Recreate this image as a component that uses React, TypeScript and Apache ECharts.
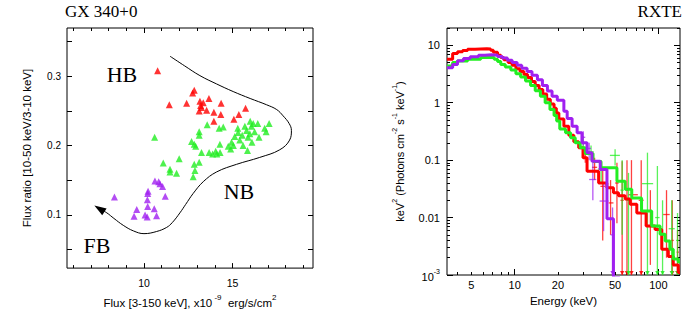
import React, { useEffect, useRef } from 'react';
import * as echarts from 'echarts';

// ---------- Left panel: flux ratio vs flux (GX 340+0) ----------
const hbPoints: number[][] = [
  [10.77, 0.308], [11.43, 0.259], [12.41, 0.261], [12.84, 0.280], [12.75, 0.276], [13.16, 0.264],
  [13.67, 0.268], [13.35, 0.262], [13.25, 0.255], [13.12, 0.250], [13.54, 0.251], [13.95, 0.248],
  [14.36, 0.261], [14.34, 0.245], [13.95, 0.235], [15.08, 0.238], [15.36, 0.245], [15.74, 0.254], [13.20, 0.258],
];
const nbPoints: number[][] = [
  [10.60, 0.212], [11.09, 0.175], [11.47, 0.166], [11.47, 0.162], [11.84, 0.160], [11.99, 0.181],
  [12.69, 0.206], [12.84, 0.202], [12.92, 0.199], [13.12, 0.220], [13.12, 0.215], [13.25, 0.190],
  [12.84, 0.173], [13.12, 0.176], [12.88, 0.164], [12.78, 0.155], [13.57, 0.230], [13.68, 0.190],
  [13.88, 0.188], [14.05, 0.192], [14.12, 0.188], [14.30, 0.190], [14.25, 0.225], [14.48, 0.227],
  [14.29, 0.202], [14.76, 0.199], [14.95, 0.205], [15.05, 0.200], [15.13, 0.213], [15.32, 0.219],
  [15.41, 0.208], [15.55, 0.215], [15.70, 0.228], [15.80, 0.222], [15.88, 0.212], [15.98, 0.217],
  [16.07, 0.228], [16.17, 0.232], [16.25, 0.220], [16.43, 0.232], [16.50, 0.212], [16.82, 0.225],
  [16.90, 0.220], [17.07, 0.232], [15.60, 0.200], [15.85, 0.193], [16.10, 0.205], [14.90, 0.195],
  [15.30, 0.225], [16.00, 0.235],
];
const fbPoints: number[][] = [
  [8.33, 0.126], [9.44, 0.098], [9.59, 0.108], [10.06, 0.100], [10.18, 0.097], [10.21, 0.112],
  [10.58, 0.109], [10.71, 0.099], [10.19, 0.122], [10.21, 0.131], [10.23, 0.134], [10.62, 0.149],
  [10.83, 0.148], [10.90, 0.145], [11.05, 0.141], [11.20, 0.127],
];
const zTrack: number[][] = [
  [11.47, 0.329], [12.3, 0.315], [13.16, 0.301], [14.1, 0.289], [15.04, 0.278], [16.0, 0.268],
  [16.92, 0.259], [17.5, 0.252], [17.86, 0.243], [18.2, 0.232], [18.33, 0.222], [18.23, 0.208],
  [17.67, 0.194], [16.54, 0.183], [15.23, 0.173], [14.1, 0.162], [13.35, 0.148], [12.78, 0.131],
  [12.35, 0.115], [12.03, 0.103], [11.6, 0.089], [11.28, 0.082], [10.7, 0.076], [10.0, 0.073],
  [9.4, 0.077], [8.83, 0.085], [8.3, 0.095], [7.9, 0.103], [7.48, 0.109],
];
const fluxMajorTicks = [10, 15];
const fluxMinorTicks = [6, 7, 8, 9, 11, 12, 13, 14, 16, 17, 18, 19];
const ratioMajorTicks = [0.1, 0.2, 0.3];
const ratioMinorTicks = [0.05, 0.15, 0.25, 0.35];

// ---------- Right panel: RXTE unfolded spectra ----------
const specRed: number[][] = [
  [3.38, 5.7], [3.7, 7.2], [4.0, 7.7], [4.34, 8.1], [4.7, 8.5], [5.3, 8.6], [5.8, 8.7], [6.4, 8.6],
  [6.8, 8.2], [7.1, 7.6], [7.6, 6.7], [8.0, 6.1], [8.4, 5.6], [9.0, 5.0], [9.6, 4.5], [10.2, 3.9],
  [10.9, 3.5], [11.6, 3.1], [12.3, 2.75], [13.1, 2.35], [13.9, 2.0], [14.8, 1.7], [15.7, 1.42],
  [16.7, 1.15], [17.7, 0.95], [18.8, 0.8], [19.5, 0.66],
  [20.3, 0.52], [22.0, 0.39], [23.8, 0.27], [25.8, 0.21], [27.9, 0.165], [29.9, 0.11], [31.9, 0.064],
  [38.4, 0.040], [43.8, 0.033], [48.7, 0.027], [52.8, 0.024], [58.7, 0.021], [63.6, 0.017],
  [70.8, 0.012], [82.2, 0.0071], [94.9, 0.0062], [105.6, 0.0028], [117.3, 0.0021], [127, 0.0015],
  [137.6, 0.0011], [141.5, 0.0011],
];
const specGreen: number[][] = [
  [3.38, 4.35], [3.7, 5.0], [4.0, 5.3], [4.7, 5.7], [5.8, 6.1], [6.5, 6.1], [7.2, 5.7], [7.6, 5.2],
  [8.0, 4.65], [8.6, 4.2], [9.4, 3.7], [10.2, 3.2], [11.0, 2.8], [11.9, 2.4], [12.9, 2.0], [13.9, 1.62],
  [15.1, 1.3], [16.3, 1.0], [17.6, 0.76], [18.8, 0.6], [19.6, 0.48],
  [20.6, 0.35], [22.6, 0.30], [24.5, 0.245], [26.4, 0.20], [28.6, 0.165], [31.0, 0.13], [35.1, 0.095],
  [39.9, 0.074], [51.5, 0.043], [58.7, 0.031], [65.3, 0.022], [76.4, 0.013], [89.9, 0.0071],
  [102.8, 0.0051], [111.5, 0.0039], [120.3, 0.0028], [127, 0.0019], [137.6, 0.0017], [141.5, 0.0017],
];
const specPurple: number[][] = [
  [3.38, 4.07], [3.7, 4.65], [4.0, 5.4], [4.4, 5.9], [4.9, 6.3], [5.6, 6.7], [6.2, 6.85], [6.9, 6.7],
  [7.6, 6.4], [8.2, 6.0], [8.9, 5.5], [9.6, 5.0], [10.4, 4.5], [11.2, 4.0], [12.2, 3.5], [13.2, 3.0],
  [14.4, 2.5], [15.6, 2.0], [16.9, 1.6], [18.2, 1.3], [19.8, 1.1],
  [22.0, 0.71], [23.2, 0.53], [25.1, 0.39], [27.2, 0.30], [29.4, 0.20], [31.9, 0.135], [34.5, 0.096],
  [39.4, 0.069], [43.9, 0.0095], [48.7, 0.0009], [54.0, 0.0009],
];
// [E, F, Elow, Ehigh, Flow, Fhigh]
const errRed: number[][] = [
  [31.0, 0.13, 29.5, 32.5, 0.09, 0.17], [36.0, 0.075, 34.5, 37.5, 0.045, 0.11],
  [41.0, 0.035, 39.5, 42.5, 0.004, 0.07], [46.5, 0.018, 45.0, 48.7, 0.005, 0.045],
  [51.5, 0.04, 50.0, 53.0, 0.008, 0.09], [56.0, 0.02, 54.5, 57.5, 0.001, 0.096],
  [60.5, 0.03, 59.0, 62.0, 0.001, 0.1], [65.0, 0.025, 62.0, 72.0, 0.001, 0.1],
  [76.0, 0.02, 73.0, 79.0, 0.001, 0.1], [88.0, 0.007, 85.0, 91.0, 0.0015, 0.03],
  [114.0, 0.0113, 108.0, 120.0, 0.002, 0.03], [125.0, 0.004, 122.0, 128.0, 0.001, 0.02],
  [136.0, 0.0025, 134.0, 139.0, 0.001, 0.006],
];
const errGreen: number[][] = [
  [30.0, 0.2, 28.8, 31.2, 0.15, 0.26], [34.0, 0.14, 32.5, 35.5, 0.1, 0.18],
  [40.0, 0.07, 38.0, 42.0, 0.04, 0.1], [50.0, 0.121, 46.0, 54.0, 0.081, 0.154],
  [56.0, 0.03, 54.5, 57.5, 0.005, 0.1], [62.0, 0.02, 60.0, 64.0, 0.001, 0.06],
  [84.0, 0.039, 77.0, 92.0, 0.001, 0.135], [98.5, 0.01, 95.0, 102.0, 0.001, 0.079],
  [107.0, 0.005, 104.0, 110.0, 0.001, 0.02], [124.0, 0.0064, 118.0, 130.0, 0.001, 0.02],
  [136.0, 0.004, 133.0, 139.0, 0.001, 0.012],
];
const errPurple: number[][] = [
  [30.0, 0.25, 29.0, 31.0, 0.18, 0.32], [33.0, 0.16, 32.0, 34.0, 0.1, 0.2],
  [35.0, 0.046, 33.0, 37.0, 0.02, 0.09], [41.6, 0.0194, 39.0, 45.0, 0.0058, 0.04],
  [48.0, 0.005, 46.5, 49.5, 0.001, 0.015],
];
const energyLabelValues = [5, 10, 20, 50, 100];
const energyLabelTexts = ['5', '10', '20', '50', '100'];
const energyMajorTicks = [10, 100];
const energyMinorTicks = [4, 5, 6, 7, 8, 9, 20, 30, 40, 50, 60, 70, 80, 90];
const specFluxLabelValues = [0.001, 0.01, 0.1, 1, 10];
const specFluxLabelTexts = ['{b|10}{s|-3}', '0.01', '0.1', '1', '10'];
const specFluxMinorTicks = [
  0.002, 0.003, 0.004, 0.005, 0.006, 0.007, 0.008, 0.009,
  0.02, 0.03, 0.04, 0.05, 0.06, 0.07, 0.08, 0.09,
  0.2, 0.3, 0.4, 0.5, 0.6, 0.7, 0.8, 0.9,
  2, 3, 4, 5, 6, 7, 8, 9, 20,
];

const RED = '#ff0000';
const GREEN = '#22ee22';
const PURPLE = '#a020f0';
const SANS = '"Liberation Sans", Arial, sans-serif';
const SERIF = '"Liberation Serif", "Times New Roman", serif';

const X_MIN = 5.65, X_MAX = 19.55, Y_MIN = 0.0233, Y_MAX = 0.3697;
const E_MIN = 3.38, E_MAX = 141.5, F_MIN = 0.001, F_MAX = 20;
const L = (v: number) => Math.log10(v);

function tickAxis(gridIndex: number, position: string, min: number, max: number, ticks: number[], len: number, extra: any = {}) {
  return {
    type: 'value', gridIndex, position, min, max,
    axisLine: { show: false, onZero: false },
    splitLine: { show: false },
    axisTick: { show: true, inside: true, length: len, customValues: ticks, lineStyle: { color: '#000', width: 1 } },
    axisLabel: { show: false },
    ...extra,
  };
}

function lookup(values: number[], texts: string[], v: number, logSpace: boolean) {
  for (let i = 0; i < values.length; i++) {
    const t = logSpace ? L(values[i]) : values[i];
    if (Math.abs(t - v) < 1e-6) return texts[i];
  }
  return '';
}

function errorSeries(data: number[][], color: string) {
  return {
    type: 'custom', xAxisIndex: 4, yAxisIndex: 4, data, z: 3,
    renderItem: (_p: any, api: any) => {
      const E = api.value(0), F = api.value(1), el = api.value(2), eh = api.value(3), fl = api.value(4), fh = api.value(5);
      const pL = api.coord([el, F]), pR = api.coord([eh, F]);
      const pB = api.coord([E, fl]), pT = api.coord([E, fh]);
      const st = { stroke: color, lineWidth: 1.3, opacity: 0.75 };
      const children: any[] = [
        { type: 'line', shape: { x1: pL[0], y1: pL[1], x2: pR[0], y2: pR[1] }, style: st },
        { type: 'line', shape: { x1: pB[0], y1: pB[1], x2: pT[0], y2: pT[1] }, style: st },
      ];
      if (fl <= 0.0011) {
        children.push({ type: 'polygon', shape: { points: [[pB[0] - 2.2, pB[1] - 4], [pB[0] + 2.2, pB[1] - 4], [pB[0], pB[1]]] }, style: { fill: color, opacity: 0.85 } });
      }
      return { type: 'group', children };
    },
  };
}

function stepSeries(data: number[][], color: string) {
  return {
    type: 'line', xAxisIndex: 4, yAxisIndex: 4, data, step: 'end', showSymbol: false, symbol: 'none',
    lineStyle: { color, width: 3 }, z: 4,
  };
}

export default function App() {
  const ref = useRef<HTMLDivElement>(null);
  useEffect(() => {
    if (!ref.current) return;
    const chart = echarts.init(ref.current, undefined, { renderer: 'svg' });
    const lastIdx = zTrack.length - 1;
    const option: any = {
      animation: false,
      backgroundColor: '#fff',
      textStyle: { fontFamily: SANS },
      grid: [
        { left: 67, top: 28, width: 246, height: 247, show: true, borderColor: '#000', borderWidth: 1, backgroundColor: 'transparent' },
        { left: 447, top: 28, width: 233, height: 247, show: true, borderColor: '#000', borderWidth: 1, backgroundColor: 'transparent' },
      ],
      xAxis: [
        tickAxis(0, 'bottom', X_MIN, X_MAX, fluxMajorTicks, 5, {
          axisLabel: { show: true, customValues: fluxMajorTicks, margin: 9, fontSize: 10.5, color: '#000', fontFamily: SANS },
          name: '{n|Flux [3-150 keV], x10}{s| -9}{n|  erg/s/cm}{s|2}',
          nameLocation: 'middle', nameGap: 22,
          nameTextStyle: {
            color: '#000', fontSize: 11.5, fontFamily: SANS,
            rich: {
              n: { fontSize: 11.5, lineHeight: 16, verticalAlign: 'bottom', fontFamily: SANS, color: '#000' },
              s: { fontSize: 8, lineHeight: 9, verticalAlign: 'top', fontFamily: SANS, color: '#000' },
            },
          },
        }),
        tickAxis(0, 'bottom', X_MIN, X_MAX, fluxMinorTicks, 3),
        tickAxis(0, 'top', X_MIN, X_MAX, fluxMajorTicks, 5),
        tickAxis(0, 'top', X_MIN, X_MAX, fluxMinorTicks, 3),
        { type: 'log', gridIndex: 1, min: E_MIN, max: E_MAX, show: false },
        tickAxis(1, 'bottom', L(E_MIN), L(E_MAX), energyMajorTicks.map(L), 6, {
          axisLabel: {
            show: true, customValues: energyLabelValues.map(L), margin: 4, fontSize: 11, color: '#000', fontFamily: SANS,
            formatter: (v: number) => lookup(energyLabelValues, energyLabelTexts, v, true),
          },
          name: 'Energy (keV)', nameLocation: 'middle', nameGap: 16,
          nameTextStyle: { color: '#000', fontSize: 11.5, fontFamily: SANS },
        }),
        tickAxis(1, 'bottom', L(E_MIN), L(E_MAX), energyMinorTicks.map(L), 3),
        tickAxis(1, 'top', L(E_MIN), L(E_MAX), energyMajorTicks.map(L), 6),
        tickAxis(1, 'top', L(E_MIN), L(E_MAX), energyMinorTicks.map(L), 3),
      ],
      yAxis: [
        tickAxis(0, 'left', Y_MIN, Y_MAX, ratioMajorTicks, 5, {
          axisLabel: { show: true, customValues: ratioMajorTicks, margin: 6, fontSize: 10, color: '#000', fontFamily: SANS },
          name: 'Flux ratio [10-50 keV/3-10 keV]', nameLocation: 'middle', nameGap: 34,
          nameTextStyle: { color: '#000', fontSize: 11.5, fontFamily: SANS },
        }),
        tickAxis(0, 'left', Y_MIN, Y_MAX, ratioMinorTicks, 5),
        tickAxis(0, 'right', Y_MIN, Y_MAX, ratioMajorTicks, 5),
        tickAxis(0, 'right', Y_MIN, Y_MAX, ratioMinorTicks, 5),
        { type: 'log', gridIndex: 1, min: F_MIN, max: F_MAX, show: false },
        tickAxis(1, 'left', L(F_MIN), L(F_MAX), specFluxLabelValues.map(L), 6, {
          axisLabel: {
            show: true, customValues: specFluxLabelValues.map(L), margin: 7, fontSize: 11, color: '#000', fontFamily: SANS,
            formatter: (v: number) => lookup(specFluxLabelValues, specFluxLabelTexts, v, true),
            rich: {
              b: { fontSize: 11, lineHeight: 14, verticalAlign: 'bottom', fontFamily: SANS, color: '#000' },
              s: { fontSize: 7, lineHeight: 8, verticalAlign: 'top', fontFamily: SANS, color: '#000' },
            },
          },
          name: '{n|keV}{s|2}{n| (Photons cm}{s|-2}{n| s}{s|-1}{n| keV}{s|-1}{n|)}',
          nameLocation: 'middle', nameGap: 42,
          nameTextStyle: {
            color: '#000', fontSize: 11, fontFamily: SANS,
            rich: {
              n: { fontSize: 11, lineHeight: 14, verticalAlign: 'bottom', fontFamily: SANS, color: '#000' },
              s: { fontSize: 7, lineHeight: 8, verticalAlign: 'top', fontFamily: SANS, color: '#000' },
            },
          },
        }),
        tickAxis(1, 'left', L(F_MIN), L(F_MAX), specFluxMinorTicks.map(L), 3),
        tickAxis(1, 'right', L(F_MIN), L(F_MAX), specFluxLabelValues.map(L), 6),
        tickAxis(1, 'right', L(F_MIN), L(F_MAX), specFluxMinorTicks.map(L), 3),
      ],
      series: [
        {
          type: 'line', xAxisIndex: 0, yAxisIndex: 0, smooth: 0.4, showSymbol: true, showAllSymbol: true,
          lineStyle: { color: '#000', width: 1 }, itemStyle: { color: '#000' }, z: 2,
          data: zTrack.map((p, i) => i === lastIdx
            ? { value: p, symbol: 'triangle', symbolSize: [8, 12], symbolRotate: 57 }
            : { value: p, symbol: 'none' }),
        },
        { type: 'scatter', xAxisIndex: 0, yAxisIndex: 0, data: hbPoints, symbol: 'triangle', symbolSize: 7, itemStyle: { color: RED }, z: 3 },
        { type: 'scatter', xAxisIndex: 0, yAxisIndex: 0, data: nbPoints, symbol: 'triangle', symbolSize: 7, itemStyle: { color: GREEN }, z: 3 },
        { type: 'scatter', xAxisIndex: 0, yAxisIndex: 0, data: fbPoints, symbol: 'triangle', symbolSize: 7, itemStyle: { color: PURPLE }, z: 3 },
        errorSeries(errRed, RED),
        errorSeries(errGreen, GREEN),
        errorSeries(errPurple, PURPLE),
        stepSeries(specRed, RED),
        stepSeries(specGreen, GREEN),
        stepSeries(specPurple, PURPLE),
      ],
      graphic: [
        { type: 'text', x: 65, y: 11, style: { text: 'GX 340+0', font: `17px ${SERIF}`, fill: '#000', align: 'left', verticalAlign: 'middle' } },
        { type: 'text', x: 682, y: 11, style: { text: 'RXTE', font: `17px ${SERIF}`, fill: '#000', align: 'right', verticalAlign: 'middle' } },
        { type: 'text', x: 122, y: 74, style: { text: 'HB', font: `22px ${SERIF}`, fill: '#000', align: 'center', verticalAlign: 'middle' } },
        { type: 'text', x: 239, y: 191, style: { text: 'NB', font: `22px ${SERIF}`, fill: '#000', align: 'center', verticalAlign: 'middle' } },
        { type: 'text', x: 97, y: 245, style: { text: 'FB', font: `22px ${SERIF}`, fill: '#000', align: 'center', verticalAlign: 'middle' } },
      ],
    };
    chart.setOption(option);
    return () => chart.dispose();
  }, []);
  return <div ref={ref} style={{ position: 'fixed', left: 0, top: 0, width: 683, height: 314, background: '#fff' }} />;
}
